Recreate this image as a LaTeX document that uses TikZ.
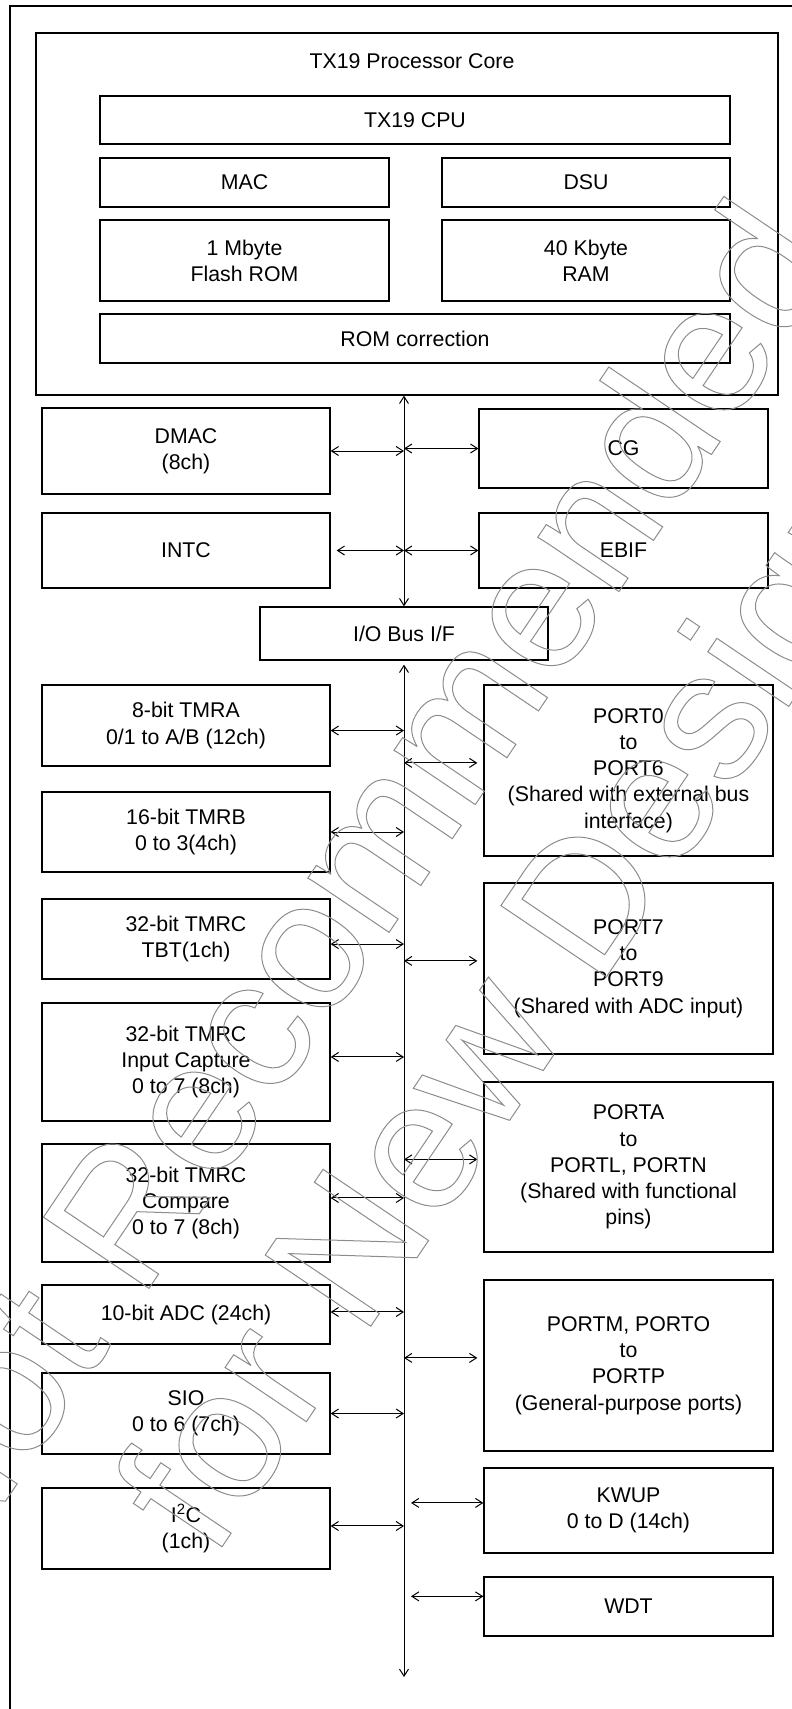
\documentclass[tikz,border=0pt]{standalone}
\usepackage{fontspec}
\setmainfont{Liberation Sans}
\usetikzlibrary{arrows.meta,positioning}

% outlined (stroked) text for the watermark
\newcommand{\hollow}[1]{\special{pdf:literal direct 1 Tr 1 w}#1\special{pdf:literal direct 0 Tr}}

\begin{document}
\begin{tikzpicture}[x=1pt, y=-1pt,
  blk/.style={rectangle, draw, line width=1.3pt, align=center, inner sep=2pt,
    font=\fontsize{21.3}{26.2}\selectfont},
  lbox/.style={blk, minimum width=288pt},
  rbox/.style={blk, minimum width=289pt},
  ttl/.style={font=\fontsize{21.3}{26.2}\selectfont},
  link/.style={{Straight Barb[length=7pt,width=9pt]}-{Straight Barb[length=7pt,width=9pt]}, line width=1pt},
  wmark/.style={anchor=base, rotate=56, inner sep=0pt, text=black!45,
    font=\fontsize{185}{200}\selectfont}
]

% page and frame
\path[use as bounding box, clip] (0,0) rectangle (792,1709);
\draw[line width=1.5pt] (10,1730) rectangle (810,6);

% Processor core
\node[blk, minimum width=742pt, minimum height=362pt] (core) at (407,214) {};
\node[ttl] (coretitle) at (412,61) {TX19 Processor Core};
\node[blk, minimum width=630pt, minimum height=48pt] (cpu)    at (415,120)     {TX19 CPU};
\node[blk, minimum width=289pt, minimum height=49pt] (mac)    at (244.5,182.5) {MAC};
\node[blk, minimum width=288pt, minimum height=49pt] (dsu)    at (586,182.5)   {DSU};
\node[blk, minimum width=289pt, minimum height=81pt] (flash)  at (244.5,260.5) {1 Mbyte\\Flash ROM};
\node[blk, minimum width=288pt, minimum height=81pt] (ram)    at (586,260.5)   {40 Kbyte\\RAM};
\node[blk, minimum width=630pt, minimum height=49pt] (romcor) at (415,338.5)   {ROM correction};

% System blocks
\node[lbox, minimum height=86pt] (dmac)  at (186,451)     {DMAC\\(8ch)};
\node[lbox, minimum height=75pt] (intc)  at (186,550.5)   {INTC};
\node[rbox, minimum height=79pt] (cg)    at (623.5,448.5) {CG};
\node[rbox, minimum height=75pt] (ebif)  at (623.5,550.5) {EBIF};
\node[lbox, minimum height=53pt] (iobus) at (404,633.5)   {I/O Bus I/F};

% Peripherals, left
\node[lbox, minimum height=81pt]  (tmra)  at (186,725.5)  {8-bit TMRA\\0/1 to A/B (12ch)};
\node[lbox, minimum height=80pt]  (tmrb)  at (186,832)    {16-bit TMRB\\0 to 3(4ch)};
\node[lbox, minimum height=80pt]  (tbt)   at (186,939)    {32-bit TMRC\\TBT(1ch)};
\node[lbox, minimum height=118pt] (incap) at (186,1062)   {32-bit TMRC\\Input Capture\\0 to 7 (8ch)};
\node[lbox, minimum height=118pt] (cmp)   at (186,1203)   {32-bit TMRC\\Compare\\0 to 7 (8ch)};
\node[lbox, minimum height=59pt]  (adc)   at (186,1314.5) {10-bit ADC (24ch)};
\node[lbox, minimum height=81pt]  (sio)   at (186,1413.5) {SIO\\0 to 6 (7ch)};
\node[lbox, minimum height=81pt]  (iic)   at (186,1528.5) {I\textsuperscript{2}C\\(1ch)};

% Peripherals, right
\node[rbox, minimum height=171pt] (p06)  at (628.5,770.5)  {PORT0\\to\\PORT6\\(Shared with external bus\\interface)};
\node[rbox, minimum height=171pt] (p79)  at (628.5,968.5)  {PORT7\\to\\PORT9\\(Shared with ADC input)};
\node[rbox, minimum height=170pt] (pal)  at (628.5,1167)   {PORTA\\to\\PORTL, PORTN\\(Shared with functional\\pins)};
\node[rbox, minimum height=171pt] (pmp)  at (628.5,1365.5) {PORTM, PORTO\\to\\PORTP\\(General-purpose ports)};
\node[rbox, minimum height=85pt]  (kwup) at (628.5,1510.5) {KWUP\\0 to D (14ch)};
\node[rbox, minimum height=59pt]  (wdt)  at (628.5,1606.5) {WDT};

\coordinate (busend) at (404,1677);

% Buses
\draw[link] (iobus.north |- core.south) -- (iobus.north);
\draw[link, shorten <=4pt] (iobus.south) -- (busend);

% Edges
\draw[link] (dmac.east) -- (dmac.east -| iobus.north);
\draw[link, shorten <=6pt] (intc.east) -- (intc.east -| iobus.north);
\draw[link] (iobus.north |- cg.west) -- (cg.west);
\draw[link] (iobus.north |- ebif.west) -- (ebif.west);

\draw[link] (tmra.358) -- (tmra.358 -| iobus.south);
\draw[link] (tmrb.east) -- (tmrb.east -| iobus.south);
\draw[link] (tbt.358) -- (tbt.358 -| iobus.south);
\draw[link] (incap.2.4) -- (incap.2.4 -| iobus.south);
\draw[link] (cmp.2.4) -- (cmp.2.4 -| iobus.south);
\draw[link] (adc.1.4) -- (adc.1.4 -| iobus.south);
\draw[link] (sio.east) -- (sio.east -| iobus.south);
\draw[link] (iic.1.4) -- (iic.1.4 -| iobus.south);

\draw[link, shorten >=6pt] (p06.177 -| iobus.south) -- (p06.177);
\draw[link, shorten >=6pt] (p79.177.4 -| iobus.south) -- (p79.177.4);
\draw[link, shorten >=6pt] (pal.177.6 -| iobus.south) -- (pal.177.6);
\draw[link, shorten >=6pt] (pmp.177 -| iobus.south) -- (pmp.177);
\draw[link, shorten <=7pt] (kwup.177.4 -| iobus.south) -- (kwup.177.4);
\draw[link, shorten <=7pt] (wdt.176.6 -| iobus.south) -- (wdt.176.6);

% Watermark
\node[wmark] (wmtop) at (396.5,921.4) {\hollow{Not Recommended}};
\node[wmark] (wmbot) at (566.5,1036)  {\hollow{for New Design}};

\end{tikzpicture}
\end{document}
